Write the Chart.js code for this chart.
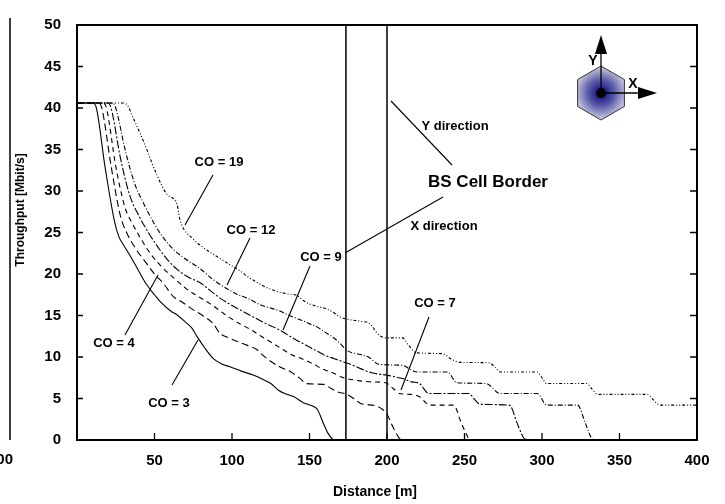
<!DOCTYPE html>
<html>
<head>
<meta charset="utf-8">
<script src="https://cdn.jsdelivr.net/npm/chart.js@4.4.0/dist/chart.umd.min.js"></script>
<style>
html,body{margin:0;padding:0;background:#fff;}
#wrap{width:725px;height:504px;}
</style>
</head>
<body>
<div id="wrap"><canvas id="c" width="725" height="504"></canvas></div>
<script>
// ---- data (distance [m], throughput [Mbit/s]) ----
const co3 = [[0,40.6],[10,40.6],[12,40.3],[18,33],[24,26.5],[27,24.5],[30,23.5],[34,22.3],[40,20.3],[45,18.7],[50,17.5],[54,16.6],[60,15.6],[65,15],[70,14.2],[74,13.5],[78,12.3],[82,11.2],[88,9.8],[93,9.2],[99,8.8],[106,8.3],[114,7.8],[120,7.3],[125,6.8],[130,6],[134,5.6],[140,5.2],[146,4.5],[152,4.1],[155,3.7],[159,2],[162,0.8],[166,0],[170,0]];
const co4 = [[0,40.6],[14,40.6],[16,40],[22,33],[28,27],[32,25],[38,23],[44,21.5],[50,20],[56,18.8],[62,17.3],[68,16.6],[74,15.8],[81,15],[88,14],[92,12.9],[98,12.3],[103,11.9],[110,11.4],[116,10.9],[120,10.2],[124,9.6],[131,8.8],[138,8.2],[144,7.4],[148,6.8],[159,6.7],[164,6.2],[168,5.8],[174,5.5],[180,4.8],[183,4.4],[193,4.1],[197,3.7],[200,3.1],[204,1.5],[208,0.2],[210,0]];
const co7 = [[0,40.6],[17,40.6],[19,40],[25,33],[31,28],[36,26],[42,24],[48,22.3],[55,20.8],[62,19.6],[70,18.3],[79,17.2],[86,16.4],[92,15.6],[98,14.8],[105,14],[112,13.3],[118,12.6],[125,11.8],[132,11],[138,10.3],[145,9.8],[152,9.2],[158,8.6],[165,8.1],[172,7.5],[180,7.2],[190,7.0],[199,6.9],[204,6.2],[208,5.6],[215,5.5],[221,5.2],[225,4.5],[227,4.2],[243,4.2],[248,2],[253,0]];
const co9 = [[0,40.6],[20,40.6],[22,40],[28,34],[34,29.5],[40,27],[46,25],[52,23.3],[58,21.8],[65,20.5],[72,19.6],[79,19],[86,18],[93,17],[100,16.2],[107,15.5],[114,14.8],[120,14.2],[127,13.6],[133,13],[140,12.2],[147,11.5],[154,10.8],[160,10.2],[166,9.8],[172,9.4],[178,9],[183,8.6],[190,8.1],[200,7.8],[210,7.4],[216,7.0],[221,6.8],[227,5.6],[253,5.6],[256,5],[260,4.3],[279,4.2],[284,2],[288,0.3],[290,0]];
const co12 = [[0,40.6],[23,40.6],[25,40],[31,35],[37,31],[43,28.5],[50,26],[56,24.3],[62,23],[70,21.8],[79,20.7],[88,19.3],[97,18.2],[104,17.5],[111,17],[118,16.3],[123,16],[130,15.6],[137,15],[144,14.5],[150,14],[155,13.6],[160,13],[165,12.4],[170,11.6],[174,10.8],[183,10.3],[188,10],[195,9.1],[210,9.0],[216,8.4],[220,8.2],[239,8.2],[245,6.9],[264,6.8],[273,5.6],[297,5.6],[303,4.2],[323,4.2],[328,2],[332,0.2],[334,0]];
const co19 = [[0,40.6],[30,40.6],[33,40.2],[36,38.9],[40.6,37],[45,35],[51.6,31.9],[58,29.6],[64.5,28.4],[66.5,26.5],[75,24.2],[80,23.4],[86,22.6],[92,21.9],[98,21.2],[105,20.4],[110,19.7],[116,19],[122,18.4],[129,17.9],[136,17.6],[142,17.4],[146,16.8],[150,16.4],[155,16.1],[161,15.8],[166,15.3],[170,14.8],[176,14.5],[183,14.3],[189,14],[194,12.8],[199,12.3],[210,12.3],[214,11.4],[219,10.5],[236,10.4],[241,9.8],[247,9.35],[266,9.3],[270,8.7],[273,8.2],[297,8.2],[300,7.5],[303,6.8],[329,6.8],[332,6.2],[336,5.5],[368,5.5],[372,4.8],[376,4.2],[400,4.2]];
const borderLines = [173.5, 200];          // BS cell border distances (X dir, Y dir)
const xTicks = [0,50,100,150,200,250,300,350,400];
const yTicks = [0,5,10,15,20,25,30,35,40,45,50];

const toPts = a => a.map(p => ({x:p[0], y:p[1]}));
const FONT = "'Liberation Sans', Arial, Helvetica, sans-serif";

function curve(data, dash, w){
  return {data: toPts(data), showLine:true, borderColor:'#000', borderWidth:w||1.1,
    borderDash:dash, pointRadius:0, cubicInterpolationMode:'monotone', fill:false};
}

const datasets = [
  curve(co3, []), curve(co4, [7,4]), curve(co7, [5,4]),
  curve(co9, [8,2,2,2]), curve(co12, [5,2,1,2]), curve(co19, [3,2,1,2,1,2])
];
borderLines.forEach(d => datasets.push({data:[{x:d,y:0},{x:d,y:50}], showLine:true,
  borderColor:'#000', borderWidth:1.5, pointRadius:0, tension:0}));

const decor = {
  id:'decor',
  afterDraw(chart){
    const ctx = chart.ctx, a = chart.chartArea;
    const xs = chart.scales.x, ys = chart.scales.y;
    ctx.save();
    // frame
    ctx.strokeStyle = '#000'; ctx.lineWidth = 2;
    ctx.strokeRect(a.left, a.top, a.right - a.left, a.bottom - a.top);
    // inward ticks
    ctx.lineWidth = 1.3;
    ctx.beginPath();
    yTicks.forEach(v => { if (v===0||v===50) return; const y = ys.getPixelForValue(v);
      ctx.moveTo(a.left, y); ctx.lineTo(a.left+6, y);
      ctx.moveTo(a.right, y); ctx.lineTo(a.right-7, y); });
    xTicks.forEach(v => { if (v===0||v===400) return; const x = xs.getPixelForValue(v);
      ctx.moveTo(x, a.bottom); ctx.lineTo(x, a.bottom-7); });
    ctx.stroke();

    // neighbouring-panel remnants at the left edge
    ctx.lineWidth = 1.5;
    ctx.beginPath(); ctx.moveTo(10, 18); ctx.lineTo(10, 440); ctx.stroke();
    ctx.fillStyle = '#000';
    ctx.font = 'bold 15px ' + FONT;
    ctx.textAlign = 'right'; ctx.textBaseline = 'middle';
    ctx.fillText('400', 13, 460);

    // axis titles
    ctx.textAlign = 'center'; ctx.textBaseline = 'middle';
    ctx.font = 'bold 14px ' + FONT;
    ctx.fillText('Distance [m]', 375, 492);
    ctx.font = 'bold 12px ' + FONT;
    ctx.save(); ctx.translate(21, 210); ctx.rotate(-Math.PI/2);
    ctx.fillText('Throughput [Mbit/s]', 0, 0); ctx.restore();

    // annotation pointers
    ctx.lineWidth = 1.1;
    const seg = (x1,y1,x2,y2) => { ctx.beginPath(); ctx.moveTo(x1,y1); ctx.lineTo(x2,y2); ctx.stroke(); };
    seg(213,175,185,225);   // CO=19
    seg(250,238,227,285);   // CO=12
    seg(310,266,283,330);   // CO=9
    seg(429,317,401,390);   // CO=7
    seg(125,335,158,275);   // CO=4
    seg(172,385,198,340);   // CO=3
    seg(391,101,452,165);   // Y direction
    seg(443,197,345,253);   // X direction

    ctx.font = 'bold 13px ' + FONT;
    ctx.fillText('CO = 19', 219, 162);
    ctx.fillText('CO = 12', 251, 230);
    ctx.fillText('CO = 9', 321, 257);
    ctx.fillText('CO = 7', 435, 303);
    ctx.fillText('CO = 4', 114, 343);
    ctx.fillText('CO = 3', 169, 403);
    ctx.font = 'bold 13px ' + FONT;
    ctx.fillText('Y direction', 455, 126);
    ctx.fillText('X direction', 444, 226);
    ctx.font = 'bold 17px ' + FONT;
    ctx.fillText('BS Cell Border', 488, 182);

    // hexagon icon
    const cx = 601, cy = 93, R = 27;
    const g = ctx.createRadialGradient(cx, cy, 2, cx, cy, R);
    g.addColorStop(0, '#101080'); g.addColorStop(0.45, '#5a5aa8'); g.addColorStop(1, '#d2d2e4');
    ctx.beginPath();
    for (let i=0;i<6;i++){ const ang = -Math.PI/2 + i*Math.PI/3;
      const px = cx + R*Math.cos(ang), py = cy + R*Math.sin(ang);
      if (i===0) ctx.moveTo(px,py); else ctx.lineTo(px,py); }
    ctx.closePath(); ctx.fillStyle = g; ctx.fill();
    ctx.strokeStyle = '#333'; ctx.lineWidth = 1; ctx.stroke();
    ctx.fillStyle = '#000'; ctx.strokeStyle = '#000'; ctx.lineWidth = 1.3;
    seg(cx, cy, cx, 54); seg(cx, cy, 640, cy);
    ctx.beginPath(); ctx.moveTo(cx, 35); ctx.lineTo(cx-6, 54); ctx.lineTo(cx+6, 54); ctx.closePath(); ctx.fill();
    ctx.beginPath(); ctx.moveTo(657, cy); ctx.lineTo(638, cy-6); ctx.lineTo(638, cy+6); ctx.closePath(); ctx.fill();
    ctx.beginPath(); ctx.arc(cx, cy, 5, 0, Math.PI*2); ctx.fill();
    ctx.font = 'bold 14px ' + FONT;
    ctx.fillText('Y', 593, 61);
    ctx.fillText('X', 633, 84);
    ctx.restore();
  }
};

new Chart(document.getElementById('c'), {
  type:'scatter',
  data:{datasets},
  options:{
    responsive:false, animation:false, devicePixelRatio:1,
    layout:{padding:{left:0, top:12, right:28, bottom:0}},
    plugins:{legend:{display:false}, tooltip:{enabled:false}},
    scales:{
      x:{type:'linear', min:0, max:400,
        afterBuildTicks: s => { s.ticks = xTicks.map(v => ({value:v})); },
        afterFit: s => { s.height = 64; },
        grid:{display:false, drawTicks:false},
        border:{display:true, color:'#000', width:2},
        ticks:{padding:12, color:'#000', font:{family:FONT, size:15, weight:'bold'},
          maxRotation:0, callback: v => v===0 ? '' : String(v)}},
      y:{type:'linear', min:0, max:50,
        afterBuildTicks: s => { s.ticks = yTicks.map(v => ({value:v})); },
        afterFit: s => { s.width = 77; },
        grid:{display:false, drawTicks:false},
        border:{display:true, color:'#000', width:2},
        ticks:{padding:16, color:'#000', font:{family:FONT, size:15, weight:'bold'}}}
    }
  },
  plugins:[decor]
});
</script>
</body>
</html>
